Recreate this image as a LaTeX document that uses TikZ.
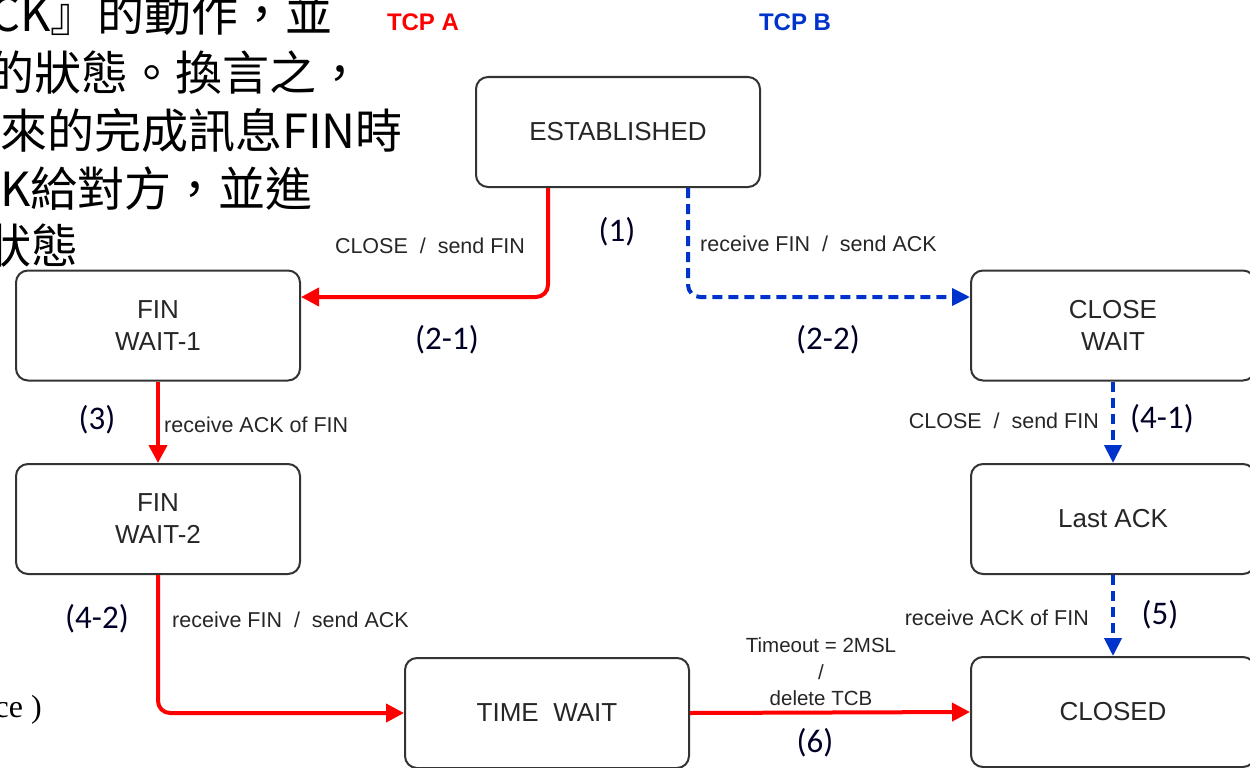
\documentclass[tikz,border=0pt]{standalone}
\usepackage{fontspec}
\usetikzlibrary{arrows.meta}
\newfontfamily\arialf{Liberation Sans}
\newfontfamily\calf{Carlito}
\newfontfamily\cjk{Noto Sans CJK TC}
\newfontfamily\timesf{Liberation Serif}
\definecolor{tcpred}{HTML}{FF0000}
\definecolor{tcpblue}{HTML}{0033CC}
\definecolor{lbl}{HTML}{262626}
\definecolor{boxline}{HTML}{333333}
\tikzset{
  state/.style={draw=boxline, line width=2pt, rounded corners=12pt, fill=white,
    minimum width=284pt, minimum height=110pt, inner sep=0pt,
    font=\arialf\fontsize{26}{32}\selectfont, align=center, text=black!85},
  redflow/.style={draw=tcpred, line width=4pt, rounded corners=12pt,
    -{Triangle[length=18pt,width=18pt]}},
  blueflow/.style={draw=tcpblue, line width=4pt, rounded corners=12pt,
    dash pattern=on 10pt off 6pt,
    -{Triangle[length=18pt,width=17pt]}},
  lab/.style={inner sep=0pt, text=lbl, font=\arialf\fontsize{21.5}{26.5}\selectfont},
  num/.style={inner sep=0pt, text=black!85!blue, font=\calf\fontsize{33}{38}\selectfont},
  cjkline/.style={inner sep=0pt, anchor=base east, text=black, font=\cjk\fontsize{47}{57}\selectfont},
  tcplab/.style={inner sep=0pt, font=\arialf\bfseries\fontsize{24}{28}\selectfont}
}
\begin{document}
\begin{tikzpicture}[x=1pt,y=-1pt]
\useasboundingbox (0,0) rectangle (1250,768);
\clip (0,0) rectangle (1250,768);

% background text (cut off at the left edge, as in the reference)
\node[cjkline] (t1) at (333,32) {CK』的動作，並};
\node[cjkline] (t2) at (364,90) {的狀態。換言之，};
\node[cjkline] (t3) at (403,148) {來的完成訊息FIN時};
\node[cjkline] (t4) at (313,206) {K給對方，並進};
\node[cjkline] (t5) at (79,263) {狀態};
\node[inner sep=0pt, anchor=base east, font=\timesf\fontsize{32}{36}\selectfont] (t6) at (42,717) {ce )};

% headers
\node[tcplab, text=tcpred] (ha) at (423,22) {TCP A};
\node[tcplab, text=tcpblue] (hb) at (795,22) {TCP B};

% states
\node[state] (est) at (618,132) {ESTABLISHED};
\node[state] (fw1) at (158,325.5) {FIN\\WAIT-1};
\node[state] (fw2) at (158,519) {FIN\\WAIT-2};
\node[state] (tw)  at (547,713) {TIME\ \ WAIT};
\node[state] (cw)  at (1113,325.5) {CLOSE\\WAIT};
\node[state] (la)  at (1113,519) {Last ACK};
\node[state] (cl)  at (1113,712) {CLOSED};

% connectors
\draw[redflow] ([xshift=-70pt]est.south) |- ([yshift=28.5pt]fw1.east);
\draw[blueflow] ([xshift=70pt]est.south) |- ([yshift=28.5pt]cw.west);
\draw[redflow] (fw1.south) -- (fw2.north);
\draw[redflow] (fw2.south) |- (tw.west);
\draw[redflow] (tw.east) -- (cl.west);
\draw[blueflow] (cw.south) -- (la.north);
\draw[blueflow] (la.south) -- (cl.north);

% transition labels
\node[lab] (l1) at (430,246) {CLOSE\ \ /\ \ send FIN};
\node[lab, anchor=west] (l2) at (700,244) {receive FIN\ \ /\ \ send ACK};
\node[lab, anchor=west] (l3) at (164,425) {receive ACK of FIN};
\node[lab, anchor=west] (l4) at (172,620) {receive FIN\ \ /\ \ send ACK};
\node[lab, anchor=east] (l5) at (1099,421) {CLOSE\ \ /\ \ send FIN};
\node[lab, anchor=east] (l6) at (1089,618) {receive ACK of FIN};
\node[lab, align=center, font=\arialf\fontsize{20.5}{26.5}\selectfont] (l7) at (821,672) {Timeout = 2MSL\\/\\delete TCB};

% step numbers
\node[num] (n1) at (617,232) {(1)};
\node[num] (n21) at (447,340) {(2-1)};
\node[num] (n22) at (828,340) {(2-2)};
\node[num] (n3) at (97,420) {(3)};
\node[num] (n42) at (97,619) {(4-2)};
\node[num] (n41) at (1162,419) {(4-1)};
\node[num] (n5) at (1160,615) {(5)};
\node[num] (n6) at (815,743) {(6)};
\end{tikzpicture}
\end{document}
